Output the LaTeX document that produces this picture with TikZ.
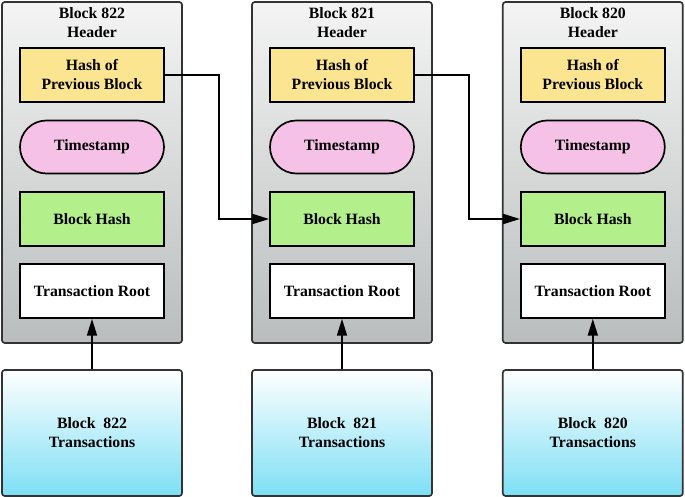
\documentclass[tikz,border=0pt]{standalone}
\usepackage{fontspec}
\setmainfont{Liberation Serif}
\usetikzlibrary{arrows.meta}

\definecolor{hashyellow}{HTML}{FCE590}
\definecolor{stamppink}{HTML}{F6C1E6}
\definecolor{blockgreen}{HTML}{B3F08C}
\definecolor{txcyan}{HTML}{7DDFF5}
\definecolor{headtop}{HTML}{F4F4F4}
\definecolor{headbot}{HTML}{B9BDBD}

\tikzset{
  lbl/.style={font=\fontsize{11.2}{13.5}\selectfont\bfseries, align=center},
  header/.style={draw=black!80, line width=1.2pt, rounded corners=2pt,
    top color=headtop, bottom color=headbot,
    minimum width=4.5cm, minimum height=8.525cm},
  inbox/.style={lbl, draw=black, line width=1.2pt,
    minimum width=3.6cm, minimum height=1.35cm},
  hashbox/.style={inbox, fill=hashyellow},
  stampbox/.style={inbox, rounded corners=0.66cm, fill=stamppink, minimum height=1.325cm},
  blockhash/.style={inbox, fill=blockgreen},
  rootbox/.style={inbox, fill=white},
  txbox/.style={lbl, draw=black!80, line width=1.2pt, rounded corners=2pt,
    top color=white, bottom color=txcyan,
    minimum width=4.5cm, minimum height=3.15cm},
  link/.style={-{Triangle[length=0.42cm,width=0.25cm]}, line width=1.2pt}
}

\begin{document}
\begin{tikzpicture}[node distance=1.8cm]
  \useasboundingbox (0,0) rectangle (17.125,-12.425);

  \node[header] (00) at (2.3,-4.3125) {};
  \node[header] (10) [right of=00,xshift=4.45cm] {};
  \node[header] (20) [right of=10,xshift=4.47cm] {};

  %% block 822
  \node[hashbox] (02) [above of=00,yshift=0.6375cm] {Hash of\\Previous Block};
  \node[lbl] (01) [above of=02,yshift=-0.4875cm] {Block 822\\Header};
  \node[stampbox] (03) [below of=02] {Timestamp};
  \node[blockhash] (04) [below of=03] {Block Hash};
  \node[rootbox] (05) [below of=04] {Transaction Root};
  \node[txbox] (06) [below of=05,yshift=-1.75cm] {Block~~822\\Transactions};

  %% block 821
  \node[hashbox] (12) [above of=10,yshift=0.6375cm] {Hash of\\Previous Block};
  \node[lbl] (11) [above of=12,yshift=-0.4875cm] {Block 821\\Header};
  \node[stampbox] (13) [below of=12] {Timestamp};
  \node[blockhash] (14) [below of=13] {Block Hash};
  \node[rootbox] (15) [below of=14] {Transaction Root};
  \node[txbox] (16) [below of=15,yshift=-1.75cm] {Block~~821\\Transactions};

  %% block 820
  \node[hashbox] (22) [above of=20,yshift=0.6375cm] {Hash of\\Previous Block};
  \node[lbl] (21) [above of=22,yshift=-0.4875cm] {Block 820\\Header};
  \node[stampbox] (23) [below of=22] {Timestamp};
  \node[blockhash] (24) [below of=23] {Block Hash};
  \node[rootbox] (25) [below of=24] {Transaction Root};
  \node[txbox] (26) [below of=25,yshift=-1.75cm] {Block~~820\\Transactions};

  %% -- edges
  %% transactions
  \draw[link] (06) -- (05);
  \draw[link] (16) -- (15);
  \draw[link] (26) -- (25);
  %% previous hash
  \draw[link] (02.east) -- ++(1.35,0) |- (14.west);
  \draw[link] (12.east) -- ++(1.35,0) |- (24.west);

\end{tikzpicture}
\end{document}
